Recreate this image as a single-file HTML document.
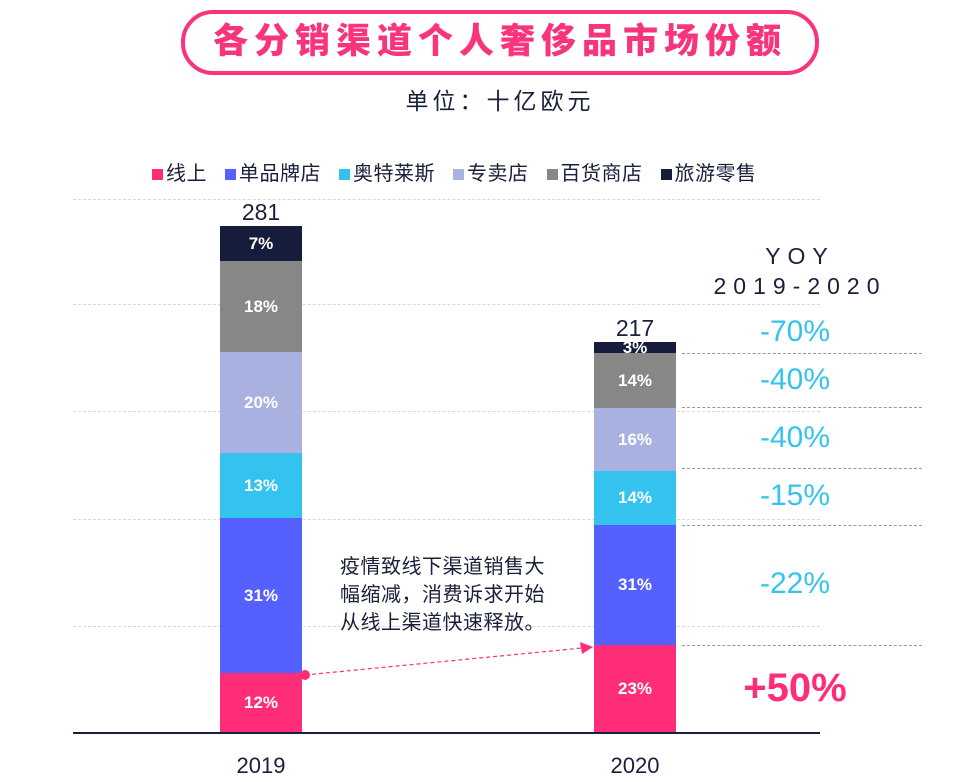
<!DOCTYPE html>
<html><head><meta charset="utf-8"><style>
body{margin:0;width:955px;height:782px;background:#fff;position:relative;overflow:hidden;font-family:"Liberation Sans","Noto Sans CJK SC",sans-serif;color:#1a1f3a}
.a{position:absolute}
.seg{position:absolute;color:#fff;font-weight:bold;font-size:17px;display:flex;align-items:center;justify-content:center}
.g{position:absolute;height:0;border-top:1px dashed #d8d8d8}
.d{position:absolute;height:0;border-top:1.5px dashed #999;left:682px;width:240px}
.y{position:absolute;left:735px;width:120px;text-align:center;color:#34c3ef;font-size:30px}
.sq{display:inline-block;width:11px;height:11px;margin-right:3px}
.lg{margin-right:18px}
</style></head><body>
<div class="a" style="left:181px;top:10px;width:630px;height:57px;border:4px solid #f7347c;border-radius:32px"></div>
<div class="a" style="left:181px;top:14px;width:638px;text-align:center;font-size:35px;font-weight:900;color:#f7347c;letter-spacing:6px;line-height:56px">各分销渠道个人奢侈品市场份额</div>
<div class="a" style="left:370px;top:82px;width:260px;text-align:center;font-size:23px;letter-spacing:4px">单位：十亿欧元</div>
<div class="a" style="left:152px;top:157px;font-size:20px;white-space:nowrap;letter-spacing:0.5px">
<span class="lg"><span class="sq" style="background:#ff2d78"></span>线上</span><span class="lg"><span class="sq" style="background:#5461ff"></span>单品牌店</span><span class="lg"><span class="sq" style="background:#34c3ef"></span>奥特莱斯</span><span class="lg"><span class="sq" style="background:#a8b1df"></span>专卖店</span><span class="lg"><span class="sq" style="background:#878787"></span>百货商店</span><span><span class="sq" style="background:#161c3c"></span>旅游零售</span></div>
<div class="g" style="left:73px;width:747px;top:199px"></div>
<div class="g" style="left:73px;width:747px;top:304px"></div>
<div class="g" style="left:73px;width:747px;top:411px"></div>
<div class="g" style="left:73px;width:747px;top:519px"></div>
<div class="g" style="left:73px;width:747px;top:626px"></div>
<div class="a" style="left:73px;width:747px;top:732px;height:2px;background:#1a1f3a"></div>
<div class="a" style="left:220px;top:199px;width:82px;text-align:center;font-size:23px">281</div>
<div class="seg" style="left:220px;width:82px;top:226px;height:35px;background:#161c3c">7%</div>
<div class="seg" style="left:220px;width:82px;top:261px;height:91px;background:#878787">18%</div>
<div class="seg" style="left:220px;width:82px;top:352px;height:101px;background:#a8b1df">20%</div>
<div class="seg" style="left:220px;width:82px;top:453px;height:65px;background:#34c3ef">13%</div>
<div class="seg" style="left:220px;width:82px;top:518px;height:155px;background:#5461ff">31%</div>
<div class="seg" style="left:220px;width:82px;top:673px;height:59px;background:#ff2d78">12%</div>
<div class="a" style="left:594px;top:315px;width:82px;text-align:center;font-size:23px">217</div>
<div class="seg" style="left:594px;width:82px;top:342px;height:11px;background:#161c3c;line-height:11px">3%</div>
<div class="seg" style="left:594px;width:82px;top:353px;height:55px;background:#878787">14%</div>
<div class="seg" style="left:594px;width:82px;top:408px;height:63px;background:#a8b1df">16%</div>
<div class="seg" style="left:594px;width:82px;top:471px;height:54px;background:#34c3ef">14%</div>
<div class="seg" style="left:594px;width:82px;top:525px;height:120px;background:#5461ff">31%</div>
<div class="seg" style="left:594px;width:82px;top:645px;height:87px;background:#ff2d78">23%</div>
<div class="d" style="top:353px"></div><div class="d" style="top:407px"></div><div class="d" style="top:468px"></div><div class="d" style="top:525px"></div><div class="d" style="top:645px"></div>
<div class="a" style="left:700px;top:241px;width:200px;text-align:center;font-size:23px;letter-spacing:7px;line-height:30px">YOY<br>2019-2020</div>
<div class="y" style="top:315px">-70%</div><div class="y" style="top:363px">-40%</div><div class="y" style="top:421px">-40%</div><div class="y" style="top:479px">-15%</div><div class="y" style="top:567px">-22%</div>
<div class="a" style="left:725px;top:666px;width:140px;text-align:center;color:#ff2d78;font-size:40px;font-weight:bold">+50%</div>
<div class="a" style="left:340px;top:553px;font-size:20px;line-height:28px;letter-spacing:0.5px">疫情致线下渠道销售大<br>幅缩减，消费诉求开始<br>从线上渠道快速释放。</div>
<svg class="a" style="left:0;top:0" width="955" height="782"><line x1="305" y1="675" x2="582" y2="648" stroke="#ff2d78" stroke-width="1.2" stroke-dasharray="4,3"/><circle cx="305" cy="675" r="5" fill="#ff2d78"/><path d="M593,647 L580,642 L582,654 Z" fill="#ff2d78"/></svg>
<div class="a" style="left:215px;top:753px;width:92px;text-align:center;font-size:22px">2019</div>
<div class="a" style="left:589px;top:753px;width:92px;text-align:center;font-size:22px">2020</div>
</body></html>
